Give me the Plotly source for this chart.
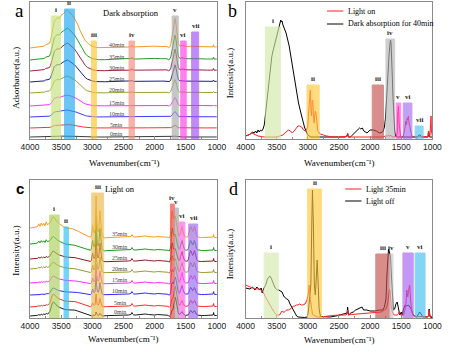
import plotly.graph_objects as go

W, H = 451, 352
def fx(x): return x / W
def fy(y): return 1 - y / H

SERIF = "Liberation Serif"
SANS = "Liberation Sans"

# ======================= DATA =======================
# ---- panel a : dark absorption (stacked spectra) ----
time_a = ["0min", "5min", "10min", "15min", "20min", "25min", "30min", "35min", "40min"]
wn_a = [4000, 3950, 3900, 3850, 3800, 3770, 3750, 3720, 3690, 3670,
        3650, 3630, 3610, 3590, 3560, 3530, 3500, 3470, 3440, 3420,
        3400, 3380, 3350, 3320, 3290, 3260, 3230, 3200, 3170, 3140,
        3110, 3080, 3050, 3020, 2990, 2950, 2900,
        2800, 2700, 2600, 2500, 2400, 2370, 2360, 2345, 2300, 2200,
        2100, 2000, 1900, 1850,
        1800, 1780, 1760, 1740, 1720, 1700, 1685, 1672, 1660, 1646,
        1632, 1620, 1600, 1580, 1560, 1540, 1510, 1480, 1450, 1400,
        1350, 1300, 1250, 1200, 1150, 1100, 1065, 1055, 1045, 1000]
shape_a = [0.0, 0.01, 0.01, 0.02, 0.03, 0.05, 0.09, 0.1, 0.12, 0.2,
           0.4, 0.62, 0.7, 0.74, 0.8, 0.78, 0.86, 0.9, 0.95, 0.98,
           1.0, 0.97, 0.92, 0.86, 0.79, 0.7, 0.6, 0.47, 0.36, 0.27,
           0.19, 0.13, 0.09, 0.06, 0.04, 0.02, 0.01,
           0.01, 0.02, 0.02, 0.02, 0.03, 0.05, 0.08, 0.03, 0.03, 0.04,
           0.05, 0.05, 0.04, 0.04,
           0.04, 0.01, 0.02, 0.1, 0.28, 0.5, 0.7, 0.78, 0.68, 0.45,
           0.25, 0.12, 0.06, 0.05, 0.07, 0.06, 0.04, 0.04, 0.04, 0.05,
           0.04, 0.04, 0.03, 0.03, 0.03, 0.03, 0.03, 0.09, 0.03, 0.03]
amp_a = [1, 3.5, 7, 11, 17, 22, 28, 32, 38]          # band height of each spectrum
base_a = [2, 11, 22, 33, 46, 57, 68, 79, 91]          # stacking offset

# ---- panel b : light on vs dark absorption 40 min ----
wn_b_light = [4000, 3950, 3900, 3870, 3840, 3800, 3750, 3700, 3600, 3500,
              3450, 3400, 3370, 3340, 3310, 3280, 3250, 3220, 3190, 3160,
              3130, 3100, 3070, 3040, 3020, 3000, 2985, 2970, 2960, 2950,
              2940, 2930, 2920, 2910, 2900, 2890, 2880, 2870, 2860, 2850,
              2840, 2820, 2800, 2750, 2700, 2600, 2400, 2370, 2360, 2345,
              2300, 2000, 1800, 1750, 1720, 1700, 1690, 1680, 1670, 1655,
              1620, 1580, 1565, 1555, 1545, 1535, 1525, 1510, 1490, 1470,
              1455, 1440, 1425, 1415, 1405, 1395, 1385, 1375, 1365, 1350,
              1330, 1300, 1100, 1070, 1060, 1050, 1040, 1030, 1022, 1015,
              1000]
light_b = [3, 4, 6, 5, 4, 3, 2.5, 2, 2, 2,
           3, 4, 6, 8, 9, 8, 6, 8, 10, 13,
           13, 12, 9, 8, 9, 13, 29, 43, 49, 29,
           23, 39, 38, 24, 16, 23, 28, 26, 16, 11,
           8, 6, 5, 4, 3, 2, 2, 2.5, 6, 2,
           2, 2, 2, 3, 3, 4, 2.5, 3, 4, 2.5,
           2, 2.5, 6, 26, 33, 16, 6, 2.5, 2, 2.5,
           6, 11, 18, 14, 21, 19, 23, 16, 13, 6,
           3, 2, 2, 2.5, 8, 2.5, 3, 13, 23, 8,
           3]
wn_b_dark = [4000, 3960, 3920, 3890, 3860, 3840, 3820, 3800, 3780, 3760,
             3740, 3720, 3700, 3680, 3660, 3640, 3620, 3600, 3580, 3560,
             3540, 3520, 3500, 3480, 3460, 3445, 3435, 3425, 3415, 3400,
             3380, 3350, 3300, 3250, 3200, 3150, 3100, 3050, 3000, 2950,
             2900, 2800, 2600, 2400, 2372, 2362, 2350, 2320, 2300, 2250,
             2200, 2170, 2150, 2125, 2100, 2050, 2000, 1950, 1900, 1850,
             1800, 1790, 1770, 1755, 1740, 1725, 1710, 1695, 1680, 1672,
             1664, 1655, 1645, 1635, 1625, 1615, 1605, 1595, 1580, 1560,
             1500, 1400, 1300, 1240, 1215, 1195, 1170, 1100, 1070, 1062,
             1055, 1045, 1000]
dark_b = [3, 4, 5, 7, 6, 8, 6, 9, 7, 9,
          8, 10, 14, 25, 36, 50, 64, 74, 82, 88,
          93, 98, 103, 108, 113, 116, 119, 117, 118, 114,
          111, 106, 93, 73, 53, 36, 23, 11, 4, 2,
          2, 2, 2, 2, 3, 5, 2, 2, 3, 6,
          9, 11, 10, 11, 8, 6, 9, 9, 8, 6,
          7, 8, 12, 20, 35, 55, 72, 85, 96, 99,
          96, 85, 65, 45, 28, 15, 8, 4, 2, 2,
          2, 2, 2, 2, 4, 4, 2, 2, 2, 8,
          3, 2, 2]

# ---- panel c : light on (stacked spectra), measured band components ----
time_c = ["0min", "5min", "10min", "15min", "20min", "25min", "30min", "35min"]
wn_c_oh = [4000, 3960, 3920, 3880, 3860, 3840, 3820, 3800, 3780, 3760,
           3740, 3720, 3700, 3680, 3660, 3640, 3620, 3600, 3580, 3560,
           3530, 3500, 3470, 3440, 3400, 3360, 3320, 3280, 3240, 3200,
           3160, 3120, 3080, 3050]
plat_shape_c = [1.0, 1.0, 1.05, 1.1, 1.3, 1.1, 1.35, 1.15, 1.3, 1.1,
                1.4, 1.15, 1.2, 1.1, 1.0, 0.95, 0.9, 0.85, 0.8, 0.75,
                0.68, 0.6, 0.55, 0.5, 0.45, 0.42, 0.38, 0.33, 0.28, 0.22,
                0.17, 0.12, 0.08, 0.05]
oh_shape_c = [0.0, 0.0, 0.02, 0.05, 0.1, 0.06, 0.12, 0.08, 0.14, 0.1,
              0.18, 0.15, 0.2, 0.35, 0.65, 0.95, 1.0, 0.88, 0.78, 0.7,
              0.62, 0.55, 0.5, 0.46, 0.44, 0.44, 0.45, 0.42, 0.36, 0.3,
              0.22, 0.15, 0.09, 0.05]
wn_c_ch = [3030, 3015, 3005, 2995, 2985, 2970, 2955, 2947, 2940, 2932,
           2920, 2905, 2893, 2884, 2877, 2870, 2860, 2845, 2825, 2800]
ch_shape_c = [0.02, 0.06, 0.15, 0.3, 0.2, 0.12, 0.2, 0.55, 1.0, 0.55,
              0.2, 0.14, 0.25, 0.5, 0.65, 0.5, 0.2, 0.07, 0.02, 0.0]
wn_c_mid = [2780, 2700, 2600, 2500, 2420, 2380, 2365, 2352, 2335, 2300,
            2250, 2200, 2150, 2100, 2050, 2000, 1950, 1900, 1850, 1800]
mid_c = [0.3, 0.5, 0.5, 0.6, 1.0, 1.5, 3.5, 2.0, 1.0, 1.0,
         1.5, 2.0, 2.0, 1.5, 1.0, 1.0, 1.5, 1.5, 1.0, 0.8]
wn_c_low = [1780, 1765, 1750, 1738, 1726, 1714, 1702, 1690, 1678, 1666,
            1654, 1642, 1630, 1618, 1606, 1594, 1582, 1570, 1558, 1546,
            1534, 1520, 1500, 1480, 1462, 1448, 1436, 1424, 1412, 1400,
            1390, 1380, 1370, 1360, 1350, 1338, 1326, 1310, 1290, 1250,
            1200, 1150, 1100, 1070, 1060, 1052, 1045, 1030, 1000]
iv_shape_c = [0, 0.02, 0.08, 0.25, 0.9, 0.95, 0.6, 0.3, 0.12, 0.04,
              0.01, 0, 0, 0, 0, 0, 0, 0, 0, 0,
              0, 0, 0, 0, 0, 0, 0, 0, 0, 0,
              0, 0, 0, 0, 0, 0, 0, 0, 0, 0,
              0, 0, 0, 0, 0, 0, 0, 0, 0]
v_shape_c = [0, 0, 0, 0, 0, 0.05, 0.2, 0.55, 0.9, 1.0,
             0.8, 0.5, 0.28, 0.14, 0.07, 0.03, 0.01, 0, 0, 0,
             0, 0, 0, 0, 0, 0, 0, 0, 0, 0,
             0, 0, 0, 0, 0, 0, 0, 0, 0, 0,
             0, 0, 0, 0, 0, 0, 0, 0, 0]
vi_shape_c = [0, 0, 0, 0, 0, 0, 0, 0, 0, 0,
              0, 0, 0, 0, 0, 0.15, 0.5, 0.9, 1.0, 0.6,
              0.3, 0.12, 0.04, 0.01, 0, 0, 0, 0, 0, 0,
              0, 0, 0, 0, 0, 0, 0, 0, 0, 0,
              0, 0, 0, 0, 0, 0, 0, 0, 0]
vii_shape_c = [0, 0, 0, 0, 0, 0, 0, 0, 0, 0,
               0, 0, 0, 0, 0, 0, 0, 0, 0, 0,
               0, 0, 0, 0.02, 0.1, 0.35, 0.75, 1.0, 0.95, 0.7,
               0.55, 0.62, 0.9, 1.0, 0.85, 0.45, 0.2, 0.07, 0.02, 0,
               0, 0, 0, 0, 0, 0, 0, 0, 0]
low_c = [0.5, -0.5, 0, 0.5, 0.5, 0.5, 0.5, 0.5, 0.5, 0.5,
         0.5, 0.5, 0.5, 0.5, 0.5, 0.5, 0.5, 0.5, 0.5, 0.5,
         0.5, 0.5, 0.5, 0.5, 0.5, 0.5, 0.5, 0.5, 0.5, 0.5,
         0.5, 0.5, 0.5, 0.5, 0.5, 0.5, 0.5, 0.5, 0.5, 0.5,
         0.5, 0.5, 0.5, 0.5, 1.0, 3.5, 1.0, 0.5, 0.5]
base_c = [2, 11, 23, 34, 45, 56, 67, 80]
plat_c = [0, 0, 0, 1, 4, 3, 7, 10]
oh_c = [14, 13, 7, 7, 7, 8, 8, 12]
ch_c = [4, 13, 19, 20, 25, 29, 35, 42]
iv_c = [5, 8, 12, 14, 17, 19, 23, 27]
v_c = [18, 20, 17, 16, 13, 12, 15, 20]
vi_c = [4, 6, 9, 11, 10, 10, 10, 11]
vii_c = [5, 6, 7, 8, 10, 11, 10, 11]

# ---- panel d : light 35 min vs light off ----
wn_d_35 = [4000, 3960, 3930, 3890, 3850, 3810, 3775, 3750, 3723, 3700,
           3682, 3646, 3620, 3594, 3570, 3543, 3515, 3491, 3456, 3430,
           3414, 3395, 3378, 3360, 3337, 3310, 3286, 3260, 3235, 3210,
           3183, 3160, 3132, 3105, 3081, 3060, 3045, 3030, 3014, 2993,
           2978, 2962, 2942, 2926, 2911, 2880, 2850, 2798, 2750, 2695,
           2600, 2490, 2387, 2370, 2362, 2352, 2346, 2300, 2182, 2100,
           1977, 1900, 1823, 1771, 1745, 1720, 1704, 1689, 1678, 1663,
           1643, 1617, 1590, 1565, 1545, 1534, 1524, 1514, 1490, 1463,
           1437, 1422, 1411, 1396, 1381, 1365, 1350, 1329, 1299, 1250,
           1155, 1070, 1060, 1052, 1044, 1027, 1000]
light35_d = [33, 32, 31, 30, 29, 29, 29, 28, 26, 24,
             21, 17, 14, 11, 8, 6, 4, 3, 3, 5,
             7, 6, 6, 7, 8, 8, 9, 10, 12, 12,
             13, 13, 14, 13, 13, 14, 14, 16, 18, 24,
             33, 19, 8, 4, 3, 2, 1, 1, 1.5, 2,
             2.5, 3, 3, 4, 8, 4, 3, 3.5, 4, 4.5,
             5, 5, 6, 8, 9, 14, 21, 29, 27, 13,
             6, 3, 3, 3, 4, 6, 4, 3, 3, 3,
             9, 16, 28, 21, 28, 33, 18, 6, 2, 1.5,
             1.5, 1.5, 3, 8, 3, 1.5, 1.5]
wn_d_off = [4000, 3930, 3890, 3850, 3820, 3775, 3750, 3733, 3712, 3690,
            3671, 3650, 3630, 3610, 3590, 3579, 3560, 3543, 3525, 3507,
            3490, 3466, 3440, 3414, 3395, 3378, 3337, 3312, 3286, 3260,
            3235, 3209, 3180, 3158, 3100, 3050, 3010, 2993, 2973, 2952,
            2937, 2926, 2911, 2896, 2880, 2865, 2850, 2834, 2819, 2798,
            2700, 2644, 2550, 2490, 2438, 2397, 2370, 2362, 2352, 2346,
            2310, 2270, 2233, 2190, 2156, 2130, 2105, 2053, 2002, 1925,
            1848, 1797, 1771, 1745, 1730, 1714, 1704, 1689, 1673, 1658,
            1643, 1627, 1606, 1586, 1565, 1545, 1524, 1499, 1483, 1463,
            1437, 1411, 1386, 1360, 1335, 1309, 1280, 1258, 1232, 1206,
            1181, 1155, 1078, 1060, 1052, 1044, 1037, 1000]
off_d = [30, 29, 31, 28, 31, 28, 30, 25, 29, 31,
         34, 39, 41, 42, 40, 38, 35, 33, 30, 29,
         28, 28, 27, 26, 23, 21, 19, 18, 14, 11,
         7, 4, 2, 1, 0.5, 0.5, 1, 6, 19, 33,
         93, 128, 93, 33, 23, 43, 58, 33, 9, 1.5,
         1, 1, 2, 3, 3.5, 4, 5, 11, 5, 3,
         5, 6, 8, 9, 10, 11, 8, 8, 7, 7,
         8, 8, 11, 19, 43, 64, 69, 66, 61, 43,
         19, 8, 9, 14, 16, 9, 3, 6, 3, 9,
         13, 12, 13, 11, 8, 3, 1.5, 1, 3, 6,
         4, 1, 1, 2, 9, 2, 1, 0.5]

# ---- highlighted bands: (label, wn_left, wn_right, top) ----
bands_a = [("i", 3660, 3510, 123), ("ii", 3446, 3288, 130), ("iii", 3015, 2934, 98),
           ("iv", 2411, 2323, 98), ("v", 1718, 1620, 123), ("vi", 1580, 1492, 98),
           ("vii", 1405, 1292, 107)]
bands_b = [("i", 3682, 3440, 112), ("ii", 3014, 2818, 54), ("iii", 1966, 1786, 54),
           ("iv", 1745, 1606, 100), ("v", 1581, 1509, 36), ("vi", 1468, 1329, 36),
           ("vii", 1277, 1149, 13)]
bands_c = [("i", 3687, 3533, 103), ("ii", 3455, 3384, 91), ("iii", 3009, 2818, 125),
           ("iv", 1745, 1683, 114), ("v", 1683, 1617, 110), ("vi", 1606, 1514, 96),
           ("vii", 1452, 1308, 94)]
bands_d = [("i", 3702, 3476, 65), ("ii", 3003, 2783, 129), ("iii", 1909, 1683, 64),
           ("iv", 1683, 1632, 64), ("v", 1473, 1308, 65), ("vi", 1277, 1118, 65)]

# ======================= STYLE =======================
colors_a = ["#3a3a3a", "#ff3030", "#3c3cff", "#ff30ff", "#a0a030",
            "#1c1c8c", "#a0203a", "#20a020", "#ff961e"]
colors_c = ["#1a1a1a", "#ff2a2a", "#2a2aff", "#ff2aff", "#9a9a2a",
            "#8b1a1a", "#1a9a1a", "#ff9a1a"]
band_cols_a = ["#c5e17a", "#1ea7ee", "#ffc42e", "#f08c7c", "#a8a8a8", "#ff3ce6", "#9d4df2"]
band_cols_b = ["#d2e8a6", "#ffc83a", "#c0504d", "#b4b4b4", "#ff4fe0", "#a86af0", "#4cc3f2"]
band_cols_c = ["#a9d05a", "#2bbcf5", "#e8b94a", "#ff3b3b", "#a0a0a0", "#ff5ce8", "#9a64ee"]
band_cols_d = ["#d5eaae", "#ffc83c", "#c0504d", "#c8c8c8", "#a660f0", "#40bff0"]

fig = go.Figure()

# panel a traces
for i, t in enumerate(time_a):
    fig.add_trace(go.Scatter(x=wn_a, y=[base_a[i] + amp_a[i] * s for s in shape_a],
                             mode="lines", line=dict(color=colors_a[i], width=1),
                             xaxis="x", yaxis="y", name=t, hoverinfo="skip"))

# panel b traces
fig.add_trace(go.Scatter(x=wn_b_dark, y=dark_b, mode="lines", line=dict(color="black", width=1),
                         xaxis="x2", yaxis="y2", name="Dark absorption for 40min"))
fig.add_trace(go.Scatter(x=wn_b_light, y=light_b, mode="lines", line=dict(color="#ff2020", width=1),
                         xaxis="x2", yaxis="y2", name="Light on"))

# panel c traces
for i, t in enumerate(time_c):
    xs = wn_c_oh + wn_c_ch + wn_c_mid + wn_c_low
    ys = ([base_c[i] + plat_c[i] * p + oh_c[i] * o for p, o in zip(plat_shape_c, oh_shape_c)]
          + [base_c[i] + ch_c[i] * c for c in ch_shape_c]
          + [base_c[i] + m for m in mid_c]
          + [base_c[i] + l + iv_c[i] * a + v_c[i] * b + vi_c[i] * c + vii_c[i] * d
             for l, a, b, c, d in zip(low_c, iv_shape_c, v_shape_c, vi_shape_c, vii_shape_c)])
    fig.add_trace(go.Scatter(x=xs, y=ys, mode="lines", line=dict(color=colors_c[i], width=1),
                             xaxis="x3", yaxis="y3", name=t, hoverinfo="skip"))

# panel d traces
fig.add_trace(go.Scatter(x=wn_d_off, y=off_d, mode="lines", line=dict(color="black", width=1),
                         xaxis="x4", yaxis="y4", name="Light off"))
fig.add_trace(go.Scatter(x=wn_d_35, y=light35_d, mode="lines", line=dict(color="#ff2020", width=1),
                         xaxis="x4", yaxis="y4", name="Light 35min"))

shapes = []
annotations = []

def add_bands(bands, cols, xr, yr, op):
    for (lab, a, b, top), col in zip(bands, cols):
        shapes.append(dict(type="rect", xref=xr, yref=yr, x0=a, x1=b, y0=0, y1=top,
                           fillcolor=col, opacity=op, line=dict(color=col, width=1), layer="above"))
        annotations.append(dict(xref=xr, yref=yr, x=(a + b) / 2, y=top, yanchor="bottom",
                                text=lab, showarrow=False,
                                font=dict(family=SERIF, size=7, color="#222", weight="bold")))

add_bands(bands_a, band_cols_a, "x", "y", 0.65)
add_bands(bands_b, band_cols_b, "x2", "y2", 0.65)
add_bands(bands_c, band_cols_c, "x3", "y3", 0.65)
add_bands(bands_d, band_cols_d, "x4", "y4", 0.65)

# time labels
for i, t in enumerate(time_a):
    annotations.append(dict(xref="x", yref="y", x=2615, y=base_a[i] + 3.5, text=t, showarrow=False,
                            font=dict(family=SERIF, size=6, color="#444")))
for i, t in enumerate(time_c):
    annotations.append(dict(xref="x3", yref="y3", x=2560, y=base_c[i] + 4.5, text=t, showarrow=False,
                            font=dict(family=SERIF, size=6, color="#444")))

def ann(x, y, text, size=9, xanchor="center", angle=0, family=SERIF, color="black", weight="normal"):
    annotations.append(dict(xref="paper", yref="paper", x=fx(x), y=fy(y), text=text,
                            showarrow=False, xanchor=xanchor, yanchor="middle", textangle=angle,
                            font=dict(family=family, size=size, color=color, weight=weight)))

# panel letters
ann(11, 10, "a", size=19)
ann(233, 11, "b", size=18)
ann(11, 188, "c", size=15, family=SANS, weight="bold")
ann(234, 189, "d", size=18)

# in-plot titles
ann(127, 12.5, "Dark absorption", size=8.5)
ann(116, 189, "Light on", size=8.5)

# axis titles
xt = "Wavenumber(cm\u207b\u00b9)"
ann(120, 163, xt, size=9)
ann(345, 163, xt, size=9)
ann(119, 339, xt, size=9)
ann(345, 340, xt, size=9)
ann(7, 78, "Adsorbance(a.u.)", size=9, angle=-90)
ann(231, 73, "Intensity(a.u.)", size=9, angle=-90)
ann(7, 251, "Intensity(a.u.)", size=9, angle=-90)
ann(231, 254, "Intensity(a.u.)", size=9, angle=-90)

# legends (b and d)
def legend_item(x0, x1, y, color, text):
    shapes.append(dict(type="line", xref="paper", yref="paper", x0=fx(x0), x1=fx(x1),
                       y0=fy(y), y1=fy(y), line=dict(color=color, width=1)))
    ann(x1 + 3, y, text, size=8, xanchor="left")

legend_item(332, 349, 11, "#ff2020", "Light on")
legend_item(332, 349, 24, "black", "Dark absorption for 40min")
legend_item(351, 368, 189, "#ff2020", "Light 35min")
legend_item(351, 368, 201, "black", "Light off")

frame = dict(showline=True, linecolor="#8a8a8a", linewidth=1, mirror=True,
             showgrid=False, zeroline=False)
xax = dict(frame, range=[4000, 1000], tickmode="linear", tick0=1000, dtick=500,
           ticks="inside", ticklen=3, tickcolor="#8a8a8a",
           tickfont=dict(family=SANS, size=8.5, color="#222"),
           minor=dict(dtick=250, tick0=1000, ticks="inside", ticklen=2, tickcolor="#8a8a8a"))
yax = dict(frame, showticklabels=False, ticks="")

dxl = [fx(22), fx(217)]
dxr = [fx(247), fx(442)]
dyt = [fy(139), fy(2)]
dyb = [fy(318), fy(180)]

fig.update_layout(
    width=W, height=H, margin=dict(l=0, r=0, t=0, b=0),
    paper_bgcolor="white", plot_bgcolor="white", showlegend=False,
    xaxis=dict(xax, domain=dxl, anchor="y"),
    yaxis=dict(yax, domain=dyt, anchor="x", range=[0, 137]),
    xaxis2=dict(xax, domain=dxr, anchor="y2"),
    yaxis2=dict(yax, domain=dyt, anchor="x2", range=[0, 137]),
    xaxis3=dict(xax, domain=dxl, anchor="y3"),
    yaxis3=dict(yax, domain=dyb, anchor="x3", range=[0, 138]),
    xaxis4=dict(xax, domain=dxr, anchor="y4"),
    yaxis4=dict(yax, domain=dyb, anchor="x4", range=[0, 138]),
    shapes=shapes, annotations=annotations,
)

fig.write_html("out.html")
